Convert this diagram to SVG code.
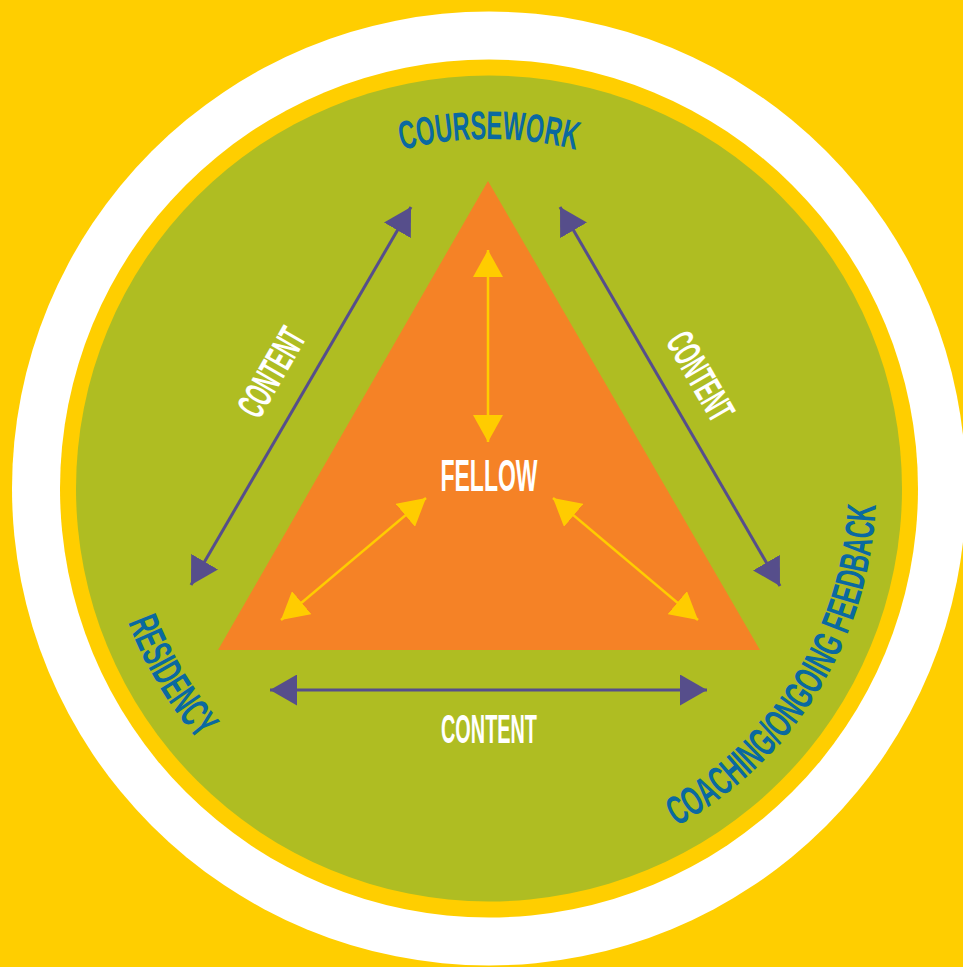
<svg xmlns="http://www.w3.org/2000/svg" xmlns:xlink="http://www.w3.org/1999/xlink" width="963" height="967" viewBox="0 0 963 967">
  <style>
    .lbl { font-family: "Liberation Sans", Arial, sans-serif; font-weight: bold; }
    .blue { fill: #0A69A0; }
    .white { fill: #FFFFFF; }
    .purple { stroke: #564E8B; stroke-width: 3; fill: none; }
    .yel { stroke: #FFCC00; stroke-width: 2.5; fill: none; }
  </style>
  <defs>
    <marker id="ahP" markerUnits="userSpaceOnUse" markerWidth="28" markerHeight="31" refX="27" refY="15.5" orient="auto-start-reverse" viewBox="0 0 28 31">
      <path d="M0,0 L27,15.5 L0,31 Z" fill="#564E8B"/>
    </marker>
    <marker id="ahY" markerUnits="userSpaceOnUse" markerWidth="28" markerHeight="30" refX="27" refY="15" orient="auto-start-reverse" viewBox="0 0 28 30">
      <path d="M0,0 L27,15 L0,30 Z" fill="#FFCC00"/>
    </marker>
    <path id="arcTop" d="M140,488 A349,349 0 0 1 838,488"/>
    <path id="arcLeft" d="M104,488 A385,385 0 0 0 489,873"/>
    <path id="arcRight" d="M421.8,869.1 A387,387 0 0 0 852.7,355.6"/>
  </defs>

  <rect x="0" y="0" width="963" height="967" fill="#FFCE00"/>
  <circle cx="489" cy="488.5" r="477" fill="#FFFFFF"/>
  <circle cx="489" cy="488.5" r="429" fill="#FFCE00"/>
  <circle cx="489" cy="488.5" r="413" fill="#AFBD22"/>

  <g id="fellow">
    <polygon points="488,181 218,650 760,650" fill="#F58226"/>
    <text class="lbl white" x="489" y="491" font-size="45" text-anchor="middle" textLength="97" lengthAdjust="spacingAndGlyphs">FELLOW</text>
  </g>

  <g id="coursework">
    <text class="lbl blue" font-size="40"><textPath xlink:href="#arcTop" href="#arcTop" startOffset="50%" text-anchor="middle" textLength="176" lengthAdjust="spacingAndGlyphs">COURSEWORK</textPath></text>
  </g>

  <g id="residency">
    <text class="lbl blue" font-size="42"><textPath xlink:href="#arcLeft" href="#arcLeft" startOffset="206" text-anchor="middle" textLength="138" lengthAdjust="spacingAndGlyphs">RESIDENCY</textPath></text>
  </g>

  <g id="coaching">
    <text class="lbl blue" font-size="41"><textPath xlink:href="#arcRight" href="#arcRight" startOffset="461" text-anchor="middle" textLength="395" lengthAdjust="spacingAndGlyphs">COACHING/ONGOING FEEDBACK</textPath></text>
  </g>

  <g id="connectors">
    <line class="yel" x1="488" y1="250" x2="488" y2="442" marker-start="url(#ahY)" marker-end="url(#ahY)"/>
    <line class="yel" x1="426" y1="498" x2="281" y2="620" marker-start="url(#ahY)" marker-end="url(#ahY)"/>
    <line class="yel" x1="553" y1="498" x2="698" y2="620" marker-start="url(#ahY)" marker-end="url(#ahY)"/>
    <line class="purple" x1="411" y1="207" x2="191" y2="585" marker-start="url(#ahP)" marker-end="url(#ahP)"/>
    <line class="purple" x1="560" y1="207" x2="780" y2="586" marker-start="url(#ahP)" marker-end="url(#ahP)"/>
    <line class="purple" x1="270" y1="690" x2="707" y2="690" marker-start="url(#ahP)" marker-end="url(#ahP)"/>
    <text class="lbl white" font-size="39" text-anchor="middle" transform="translate(271,372) rotate(-60)" y="14" textLength="96" lengthAdjust="spacingAndGlyphs">CONTENT</text>
    <text class="lbl white" font-size="39" text-anchor="middle" transform="translate(701,376) rotate(60)" y="14" textLength="96" lengthAdjust="spacingAndGlyphs">CONTENT</text>
    <text class="lbl white" x="489" y="743" font-size="40" text-anchor="middle" textLength="96" lengthAdjust="spacingAndGlyphs">CONTENT</text>
  </g>
</svg>
